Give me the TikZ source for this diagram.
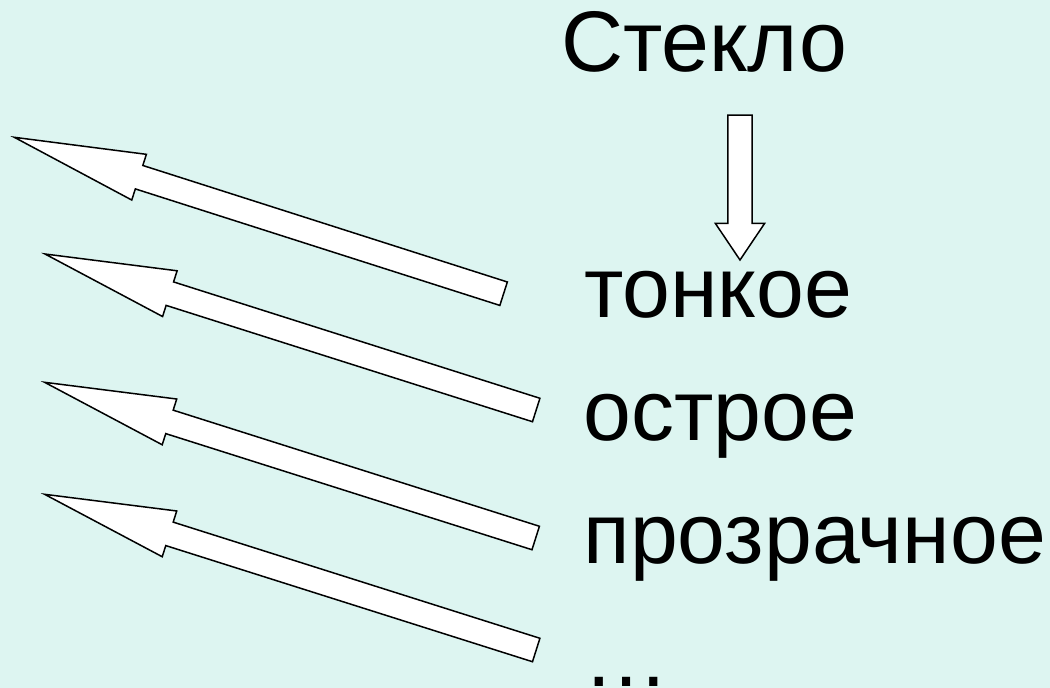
\documentclass[tikz,border=0pt]{standalone}
\usepackage{fontspec}
\setmainfont{Liberation Sans}
\usetikzlibrary{calc}
\definecolor{bgcol}{RGB}{221,245,241}
\tikzset{
  blockarrow/.style={draw=black, fill=white, line width=1.5pt, line join=miter},
  word/.style={anchor=base west, inner sep=0pt, outer sep=0pt, font=\fontsize{86}{100}\selectfont, text=black}
}
% #1 tail, #2 tip, #3 head length, #4 head half width, #5 shaft half width
\newcommand{\myblockarrow}[5]{%
  \path[blockarrow]
    (#2)
    -- ($($(#2)!#3!(#1)$)!#4!90:(#1)$)
    -- ($($(#2)!#3!(#1)$)!#5!90:(#1)$)
    -- ($(#1)!#5!-90:(#2)$)
    -- ($(#1)!#5!90:(#2)$)
    -- ($($(#2)!#3!(#1)$)!#5!-90:(#1)$)
    -- ($($(#2)!#3!(#1)$)!#4!-90:(#1)$)
    -- cycle;}
\begin{document}
\begin{tikzpicture}[x=1pt,y=-1pt]
  \fill[bgcol] (0,0) rectangle (1050,688);
  \useasboundingbox (0,0) rectangle (1050,688);
  % words
  \node[word] (w0) at (561,71.7) {Стекло};
  \node[word] (w1) at (584,317.7) {тонкое};
  \node[word] (w2) at (583.5,440.7) {острое};
  \node[word] (w3) at (583.5,563.3) {прозрачное};
  \node[word] (w4) at (583.5,686.5) {…};
  % vertical arrow
  \coordinate (v0) at (740,115);
  \coordinate (v1) at (740,260);
  \myblockarrow{v0}{v1}{36.7pt}{24.7pt}{12.2pt}
  % slanted arrows
  \coordinate (t1) at (503.6,293.7); \coordinate (h1) at (14.3,137.3);
  \coordinate (t2) at (536.2,410);   \coordinate (h2) at (45,254);
  \coordinate (t3) at (535.7,538);   \coordinate (h3) at (44.6,382.3);
  \coordinate (t4) at (536.2,650);   \coordinate (h4) at (44.6,494.3);
  \foreach \i in {1,2,3,4}{
    \myblockarrow{t\i}{h\i}{131pt}{24pt}{12.3pt}
  }
\end{tikzpicture}
\end{document}
